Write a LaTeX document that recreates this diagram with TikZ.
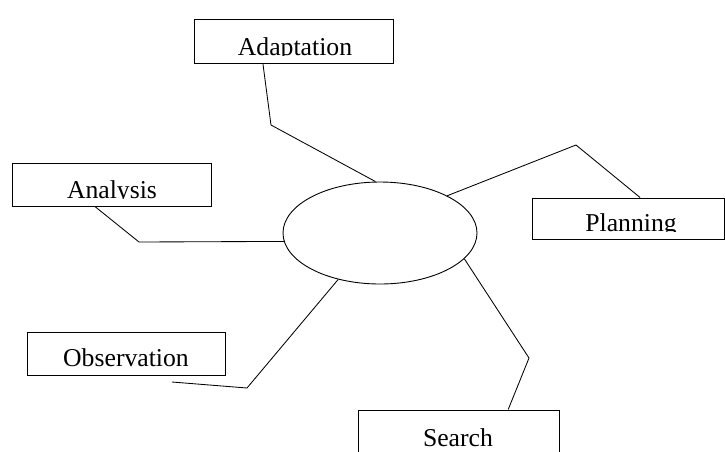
\documentclass[tikz,border=0pt]{standalone}
\usepackage{fontspec}
\setmainfont{Liberation Serif}
\usetikzlibrary{shapes.geometric,calc}
% label whose lower part is cut off along the given line
\newcommand\cutlabel[4]{%
  \begin{scope}
    \clip (#1.north west) rectangle (#1.east |- 0,#3);
    \node[lbl] at (#2,#3) {#4};
  \end{scope}}
\begin{document}
\begin{tikzpicture}[x=1pt,y=-1pt,
  box/.style={draw,line width=1pt,inner sep=0pt},
  lbl/.style={anchor=base,inner sep=0pt,font=\fontsize{25.7}{30}\selectfont},
  link/.style={draw,line width=0.85pt,line join=miter}]
\useasboundingbox (0,0) rectangle (725,451);
\clip (0,0) rectangle (725,451);

% central ellipse
\node[ellipse,draw,line width=0.9pt,minimum width=194pt,minimum height=102pt,inner sep=0pt] (hub) at (380,233) {};

% boxes
\node[box,minimum width=199pt,minimum height=44pt] (adapt) at (293.5,41) {};
\node[box,minimum width=199pt,minimum height=43pt] (anal) at (111.5,184.5) {};
\node[box,minimum width=192pt,minimum height=41pt] (plan) at (628,218.5) {};
\node[box,minimum width=198pt,minimum height=43pt] (obs) at (126,353.5) {};
\node[box,minimum width=201pt,minimum height=44pt] (srch) at (458.5,432) {};

% labels
\cutlabel{adapt}{295}{55}{Adaptation}
\cutlabel{anal}{112}{198}{Analysis}
\cutlabel{plan}{631}{231}{Planning}
\cutlabel{obs}{126}{366}{Observation}
\cutlabel{srch}{458}{446}{Search}

% bends of the connectors
\coordinate (kA) at (271,125);
\coordinate (kB) at (139,242);
\coordinate (kC) at (576,145);
\coordinate (kD) at (247,388);
\coordinate (endD) at (172,382);
\coordinate (kE) at (529,358);

% connectors
\draw[link] ($(adapt.south west)!0.347!(adapt.south east)$) -- (kA) -- (hub.95.6);
\draw[link] ($(anal.south west)!0.417!(anal.south east)$) -- (kB) -- (hub.185.9);
\draw[link] (hub.29) -- (kC) -- ($(plan.north west)!0.5625!(plan.north east)$);
\draw[link] (hub.228.2) -- (kD) -- (endD);
\draw[link] (hub.343.5) -- (kE) -- ($(srch.north west)!0.746!(srch.north east)$);
\end{tikzpicture}
\end{document}
